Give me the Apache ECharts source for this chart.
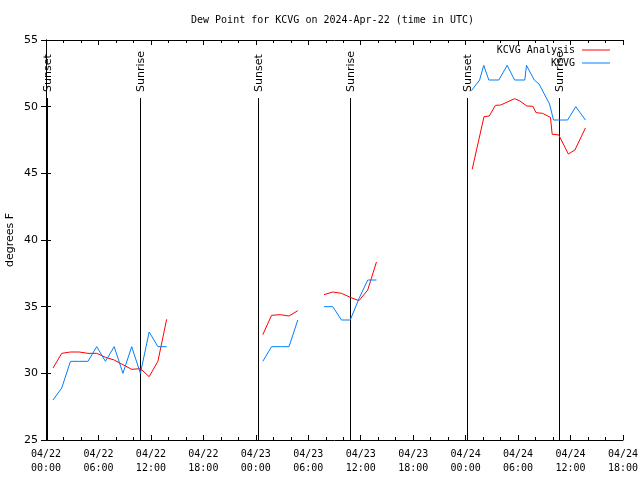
<!DOCTYPE html>
<html><head><meta charset="utf-8">
<script src="https://cdn.jsdelivr.net/npm/echarts@6/dist/echarts.min.js"></script>
<style>html,body{margin:0;padding:0;background:#fff}#c{width:640px;height:480px}</style>
</head><body><div id="c"></div>
<script>
// hours since 2024-04-22 00:00 UTC
const xTickLabels = ['04/22\n00:00','04/22\n06:00','04/22\n12:00','04/22\n18:00','04/23\n00:00','04/23\n06:00','04/23\n12:00','04/23\n18:00','04/24\n00:00','04/24\n06:00','04/24\n12:00','04/24\n18:00'];

// KCVG Analysis (red)
const anaSeg1Times = [0.8,1.8,2.8,3.8,4.8,5.8,6.8,7.8,8.8,9.8,10.8,11.8,12.8,13.8];
const anaSeg1Vals  = [30.4,31.5,31.6,31.6,31.5,31.5,31.2,31.0,30.65,30.3,30.35,29.75,30.9,34.05];
const anaSeg2Times = [24.8,25.8,26.8,27.8,28.8];
const anaSeg2Vals  = [32.9,34.35,34.4,34.3,34.7];
const anaSeg3Times = [31.8,32.8,33.8,34.8,35.8,36.8,37.8];
const anaSeg3Vals  = [35.9,36.1,36.0,35.7,35.45,36.25,38.35];
const anaSeg4Times = [48.75,50.1,50.7,51.4,52.0,53.6,54.2,55.0,55.7,56.05,56.8,57.7,57.9,58.65,59.75,60.5,61.7];
const anaSeg4Vals  = [45.3,49.25,49.3,50.1,50.12,50.6,50.43,50.05,50.03,49.55,49.5,49.2,47.93,47.88,46.45,46.75,48.4];

// KCVG observations (blue)
const obsSeg1Times = [0.8,1.8,2.8,3.8,4.8,5.8,6.8,7.8,8.8,9.8,10.8,11.8,12.8,13.8];
const obsSeg1Vals  = [28.0,28.9,30.9,30.9,30.9,32.0,30.9,32.0,30.0,32.0,30.0,33.1,32.0,32.0];
const obsSeg2Times = [24.8,25.8,26.8,27.8,28.8];
const obsSeg2Vals  = [30.9,32.0,32.0,32.0,34.0];
const obsSeg3Times = [31.8,32.8,33.8,34.8,35.8,36.8,37.8];
const obsSeg3Vals  = [35.0,35.0,34.0,34.0,35.6,37.0,37.0];
const obsSeg4Times = [48.66,49.6,50.07,50.65,51.8,52.75,53.6,54.77,54.96,55.85,56.4,56.95,57.6,58.05,59.66,60.6,61.7];
const obsSeg4Vals  = [51.2,52.0,53.1,52.0,52.0,53.1,52.0,52.0,53.1,52.0,51.7,51.0,50.2,49.0,49.0,50.0,49.0];

// Sunrise / sunset
const sunTimes  = [0.1,10.77,24.23,34.72,48.13,58.65];
const sunLabels = ['Sunset','Sunrise','Sunset','Sunrise','Sunset','Sunrise'];

function build(segs){
  const out=[];
  segs.forEach((s,i)=>{
    if(i>0) out.push([s[0][0]-0.5, null]);
    s[0].forEach((t,j)=>out.push([t, s[1][j]]));
  });
  return out;
}
const anaData = build([[anaSeg1Times,anaSeg1Vals],[anaSeg2Times,anaSeg2Vals],[anaSeg3Times,anaSeg3Vals],[anaSeg4Times,anaSeg4Vals]]);
const obsData = build([[obsSeg1Times,obsSeg1Vals],[obsSeg2Times,obsSeg2Vals],[obsSeg3Times,obsSeg3Vals],[obsSeg4Times,obsSeg4Vals]]);

const MONO = 'DejaVu Sans Mono';
const SANS = 'DejaVu Sans';
const chart = echarts.init(document.getElementById('c'), null, {renderer:'canvas'});
const xCommon = {
  type:'value', min:0, max:66, interval:6,
  splitLine:{show:false},
  axisLine:{show:true, lineStyle:{color:'#000', width:1}},
  axisTick:{show:true, inside:true, length:5, lineStyle:{color:'#000'}},
  minorTick:{show:true, splitNumber:3, length:3, lineStyle:{color:'#000'}}
};
const yCommon = {
  type:'value', min:25, max:55, interval:5,
  splitLine:{show:false},
  axisLine:{show:true, lineStyle:{color:'#000', width:1}},
  axisTick:{show:true, inside:true, length:5, lineStyle:{color:'#000'}}
};
chart.setOption({
  animation:false,
  backgroundColor:'#fff',
  title:{text:'Dew Point for KCVG on 2024-Apr-22 (time in UTC)', left:191, top:15, padding:0,
    textStyle:{fontFamily:MONO, fontSize:10, fontWeight:'normal', color:'#000'}},
  legend:[
    {data:['KCVG Analysis'], right:30, top:45, padding:0, orient:'vertical', align:'right',
     icon:'rect', itemWidth:28, itemHeight:1,
     textStyle:{fontFamily:MONO, fontSize:10, color:'#000', padding:[0,2,0,0]}},
    {data:['KCVG'], right:30, top:58, padding:0, orient:'vertical', align:'right',
     icon:'rect', itemWidth:28, itemHeight:1,
     textStyle:{fontFamily:MONO, fontSize:10, color:'#000', padding:[0,2,0,0]}}
  ],
  grid:{left:46, right:17, top:40, bottom:40, show:false, containLabel:false, outerBoundsMode:'none'},
  xAxis:[
    Object.assign({}, xCommon, {position:'bottom',
      axisLabel:{show:true, margin:7, fontFamily:MONO, fontSize:10, color:'#000', lineHeight:14,
        formatter:v=>xTickLabels[Math.round(v/6)] || ''}}),
    Object.assign({}, xCommon, {position:'top', axisLabel:{show:false}})
  ],
  yAxis:[
    Object.assign({}, yCommon, {position:'left', name:'degrees F', nameLocation:'middle', nameGap:30,
      nameMoveOverlap:false,
      nameTextStyle:{fontFamily:SANS, fontSize:11, color:'#000'},
      axisLabel:{show:true, margin:8, fontFamily:SANS, fontSize:11, color:'#000'}}),
    Object.assign({}, yCommon, {position:'right', axisLabel:{show:false}})
  ],
  series:[
    {
      type:'custom', xAxisIndex:0, yAxisIndex:0, silent:true, clip:false,
      data: sunTimes.map(t=>[t, 25]),
      renderItem:(params, api)=>{
        const t = api.value(0);
        const bot = api.coord([t, 25]);
        const top = api.coord([t, 55]);
        const x = Math.round(bot[0]) + 0.5;
        return {type:'group', children:[
          {type:'line', shape:{x1:x, y1:top[1]+58, x2:x, y2:bot[1]}, style:{stroke:'#000', lineWidth:1}},
          {type:'text', x:x+1, y:top[1]+52, rotation:Math.PI/2,
           style:{text:sunLabels[params.dataIndex], textAlign:'left', textVerticalAlign:'middle',
                  fill:'#000', font:'11px "DejaVu Sans"'}}
        ]};
      }
    },
    {name:'KCVG Analysis', type:'line', data:anaData, showSymbol:false, symbol:'none', connectNulls:false,
      lineStyle:{color:'#ff0000', width:1}, itemStyle:{color:'#ff0000'}},
    {name:'KCVG', type:'line', data:obsData, showSymbol:false, symbol:'none', connectNulls:false,
      lineStyle:{color:'#0080ff', width:1}, itemStyle:{color:'#0080ff'}}
  ]
});
</script>
</body></html>
